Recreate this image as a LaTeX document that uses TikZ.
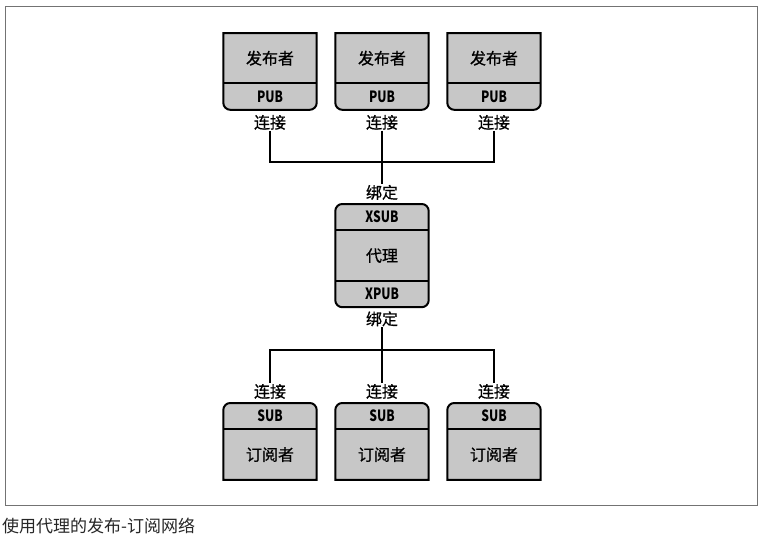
\documentclass[tikz,border=0pt]{standalone}
\usepackage{fontspec}
\setmainfont{Noto Sans CJK SC}
\newfontfamily\boxfont[FakeBold=0.7]{Noto Sans CJK SC}
\newfontfamily\portfont[FakeStretch=0.78]{Noto Sans CJK SC}
\usetikzlibrary{backgrounds}
\usetikzlibrary{positioning}

\begin{document}
\begin{tikzpicture}[
    x=1pt, y=-1pt,
    part/.style={rectangle, minimum width=93pt, inner sep=0pt},
    role/.style={part, minimum height=50pt, font=\boxfont\fontsize{16}{17}\selectfont},
    sock/.style={part, minimum height=26pt, font=\portfont\bfseries\fontsize{15.5}{16}\selectfont},
    lbl/.style={inner sep=1pt, font=\boxfont\fontsize{16}{17}\selectfont},
    box/.style={fill=black!22, draw=black, line width=2pt},
    link/.style={line width=2pt},
    ]

    \useasboundingbox (0,0) rectangle (764,538);
    \draw [black!55, line width=1pt] (5,6) rectangle (757,505);

    % publishers
    \foreach \i/\x in {1/270, 2/382, 3/494} {
        \node (pub\i) [role, anchor=north] at (\x,33) {发布者};
        \node (pub\i-sock) [sock, below=0pt of pub\i] {PUB};
        \node (pub\i-lbl) [lbl, below=4pt of pub\i-sock] {连接};
        \begin{scope}[on background layer]
            \draw [box] (pub\i.north west) -- (pub\i.north east)
                [rounded corners=7] -- (pub\i-sock.south east)
                -- (pub\i-sock.south west) [sharp corners] -- cycle;
        \end{scope}
        \draw [link] (pub\i.south west) -- (pub\i.south east);
    }

    % broker
    \node (brk-sub) [sock, anchor=north] at (382,204) {XSUB};
    \node (brk) [role, below=0pt of brk-sub] {代理};
    \node (brk-pub) [sock, below=0pt of brk] {XPUB};
    \node (brk-in) [lbl, above=3pt of brk-sub] {绑定};
    \node (brk-out) [lbl, below=3pt of brk-pub] {绑定};
    \begin{scope}[on background layer]
        \draw [box, rounded corners=7] (brk-sub.north west) rectangle
            (brk-pub.south east);
    \end{scope}
    \draw [link] (brk.north west) -- (brk.north east);
    \draw [link] (brk.south west) -- (brk.south east);

    % subscribers
    \foreach \i/\x in {1/270, 2/382, 3/494} {
        \node (sub\i-sock) [sock, anchor=north] at (\x,403) {SUB};
        \node (sub\i) [role, below=0pt of sub\i-sock] {订阅者};
        \node (sub\i-lbl) [lbl, above=3pt of sub\i-sock] {连接};
        \begin{scope}[on background layer]
            \draw [box] (sub\i.south west) -- (sub\i.south east)
                [rounded corners=7] -- (sub\i-sock.north east)
                -- (sub\i-sock.north west) [sharp corners] -- cycle;
        \end{scope}
        \draw [link] (sub\i.north west) -- (sub\i.north east);
    }

    % wiring
    \coordinate (top-bus) at (382,162);
    \coordinate (low-bus) at (382,350);
    \draw [link] (pub1-lbl.south) |- (top-bus);
    \draw [link] (pub3-lbl.south) |- (top-bus);
    \draw [link] (pub2-lbl.south) -- (brk-in.north);
    \draw [link] (sub1-lbl.north) |- (low-bus);
    \draw [link] (sub3-lbl.north) |- (low-bus);
    \draw [link] (brk-out.south) -- (sub2-lbl.north);

    \node (caption) [anchor=west, inner sep=0pt, text=black!85,
        font=\fontsize{17}{18}\selectfont] at (2,526) {使用代理的发布-订阅网络};
\end{tikzpicture}
\end{document}
